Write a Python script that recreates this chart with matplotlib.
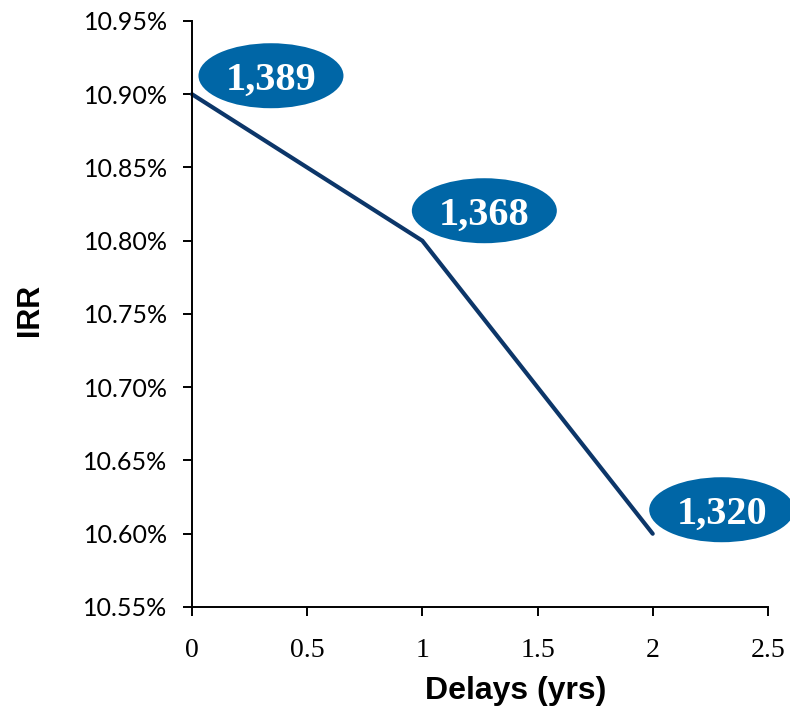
import matplotlib
matplotlib.use("Agg")
import matplotlib.pyplot as plt
from matplotlib.patches import Ellipse
from matplotlib.transforms import ScaledTranslation

# IRR against construction delay, with NPV callouts
delays = [0, 1, 2]
irr = [10.90, 10.80, 10.60]
npv = [1389, 1368, 1320]

# callout centre offsets from each point, in inches (right, up)
callout_dx = [0.79, 0.62, 0.69]
callout_dy = [0.185, 0.30, 0.24]

y_ticks = [10.55, 10.60, 10.65, 10.70, 10.75, 10.80, 10.85, 10.90, 10.95]
x_ticks = [0, 0.5, 1, 1.5, 2, 2.5]
x_ticklabels = ["0", "0.5", "1", "1.5", "2", "2.5"]

line_color = "#0c3669"
bubble_color = "#0066a6"

fig = plt.figure(figsize=(7.9, 7.11), dpi=100)
ax = fig.add_axes([0.243, 0.1463, 0.729, 0.8242])

ax.plot(delays, irr, color=line_color, linewidth=3.0, solid_capstyle="round",
        solid_joinstyle="miter", zorder=2, clip_on=False)

ax.set_xlim(0, 2.5)
ax.set_ylim(10.55, 10.95)
ax.set_xticks(x_ticks)
ax.set_xticklabels(x_ticklabels, fontfamily="Liberation Serif", fontsize=20)
ax.set_yticks(y_ticks)
ax.set_yticklabels(["%.2f%%" % v for v in y_ticks], fontfamily="Lato", fontsize=18)

for side in ("top", "right"):
    ax.spines[side].set_visible(False)
for side in ("left", "bottom"):
    ax.spines[side].set_linewidth(1.4)
ax.tick_params(axis="y", direction="out", length=6.5, width=1.4, pad=11)
ax.tick_params(axis="x", direction="out", length=6.5, width=1.4, pad=16)

ax.set_xlabel("Delays (yrs)", fontfamily="Liberation Sans", fontweight="bold", fontsize=23)
ax.xaxis.set_label_coords(0.5625, -0.118)
ax.set_ylabel("IRR", fontfamily="Liberation Sans", fontweight="bold", fontsize=22)
ax.yaxis.set_label_coords(-0.255, 0.507)

# NPV bubbles placed relative to each data point
for x, y, val, dx, dy in zip(delays, irr, npv, callout_dx, callout_dy):
    trans = fig.dpi_scale_trans + ScaledTranslation(x, y, ax.transData)
    ell = Ellipse((dx, dy), width=1.45, height=0.65, transform=trans,
                  facecolor=bubble_color, edgecolor="none", zorder=3, clip_on=False)
    ax.add_artist(ell)
    ax.text(dx, dy, "{:,}".format(val), transform=trans, ha="center", va="center_baseline",
            color="white", fontfamily="Liberation Serif", fontweight="bold",
            fontsize=29, zorder=4, clip_on=False)

fig.savefig("out.png", dpi=100)
